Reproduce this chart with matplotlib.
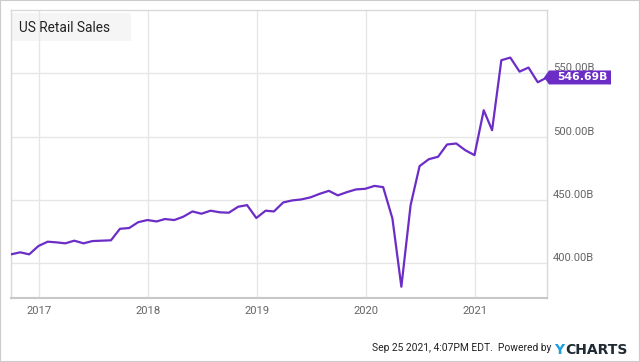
import matplotlib
matplotlib.use("Agg")
import matplotlib.pyplot as plt
import matplotlib.dates as mdates
import matplotlib.transforms as mtransforms
from matplotlib.patches import Polygon, Rectangle
import pandas as pd

# monthly US retail sales, billions USD, Sep 2016 .. Aug 2021 (month end)
months = pd.date_range("2016-10-01", periods=60, freq="MS") - pd.Timedelta(days=1)
retail_sales = [
    406.9, 408.5, 406.9, 413.5, 416.9, 416.4, 415.6, 417.7, 415.6, 417.4,
    417.7, 418.0, 427.1, 427.7, 432.3, 434.0, 432.9, 434.8, 434.0, 436.6,
    440.8, 439.0, 441.4, 440.1, 439.8, 444.5, 445.8, 435.6, 441.4, 440.8,
    447.9, 449.5, 450.3, 451.9, 454.7, 457.1, 453.5, 456.1, 458.2, 458.7,
    461.0, 460.0, 435.3, 381.3, 445.8, 476.6, 482.1, 484.0, 493.7, 494.5,
    489.2, 485.3, 520.8, 505.0, 560.3, 562.4, 551.3, 554.5, 542.9, 546.69,
]
year_ticks = pd.to_datetime(["2017-01-01", "2018-01-01", "2019-01-01", "2020-01-01", "2021-01-01"])
year_labels = ["2017", "2018", "2019", "2020", "2021"]
y_ticks = [400, 450, 500, 550]
y_labels = ["400.00B", "450.00B", "500.00B", "550.00B"]

purple = "#6c2dc7"
sans = ["Roboto", "DejaVu Sans"]

W, H = 640, 362
fig = plt.figure(figsize=(W / 100, H / 100), dpi=100)
ax = fig.add_axes([11 / W, 1 - 298 / H, 536 / W, 288 / H])

ax.plot(months, retail_sales, color=purple, lw=1.6, zorder=3)

ax.set_xlim(months[0], months[-1])
ax.set_ylim(372.4, 600)
ax.set_xticks(year_ticks, labels=year_labels)
ax.xaxis.set_major_formatter(mdates.DateFormatter("%Y"))
ax.set_yticks(y_ticks, labels=y_labels, va="bottom")
ax.yaxis.tick_right()
ax.tick_params(axis="x", length=0, pad=5.4, labelsize=8.1, labelcolor="#666666")
ax.tick_params(axis="y", length=0, pad=4.3, labelsize=8.1, labelcolor="#666666")
for lbl in ax.get_xticklabels() + ax.get_yticklabels():
    lbl.set_family(sans)

ax.set_axisbelow(True)
ax.grid(True, color="#e6e6e6", lw=1)
for side in ["left", "top", "right"]:
    ax.spines[side].set_color("#d9d9d9")
    ax.spines[side].set_linewidth(1)
ax.spines["bottom"].set_color("#c8c8c8")
ax.spines["bottom"].set_linewidth(1.5)

# title box
ax.add_patch(Rectangle((12 / W, 1 - 41 / H), 119 / W, 28 / H, transform=fig.transFigure,
                       facecolor="#f5f5f5", edgecolor="none", zorder=0.2))
fig.text(19 / W, 1 - 31.7 / H, "US Retail Sales", family=sans, fontsize=9.8,
         color="#222222", va="baseline", ha="left")

# last value flag
last_x = mdates.date2num(months[-1])
last_y = retail_sales[-1]
anchor = mtransforms.ScaledTranslation(last_x, last_y, ax.transData)
flag = Polygon([(-3, 0), (2, 7), (64, 7), (64, -7), (2, -7)], closed=True,
               transform=anchor, facecolor=purple, edgecolor="none", clip_on=False, zorder=5)
ax.add_patch(flag)
ax.annotate(f"{last_y:.2f}B", xy=(months[-1], last_y), xytext=(7, 0),
            textcoords="offset points", color="white", fontweight="bold",
            fontsize=7.8, family="DejaVu Sans", va="center", ha="left",
            annotation_clip=False, zorder=6)

# footer
fig.text(551 / W, 1 - 350.7 / H, "Sep 25 2021, 4:07PM EDT.  Powered by", family=sans,
         fontsize=7.4, color="#222222", ha="right", va="baseline")
fig.text(554 / W, 1 - 354 / H, "Y", family="DejaVu Sans", fontweight="bold",
         fontsize=10, color="#1b9ee0", ha="left", va="baseline")
fig.text(565 / W, 1 - 354 / H, "CHARTS", family="DejaVu Sans", fontweight="bold",
         fontsize=10, color="#1f2a33", ha="left", va="baseline")

fig.patches.append(Rectangle((0, 0), 1, 1, transform=fig.transFigure, fill=False,
                             edgecolor="#cccccc", lw=1.5))

fig.savefig("out.png", dpi=100)
